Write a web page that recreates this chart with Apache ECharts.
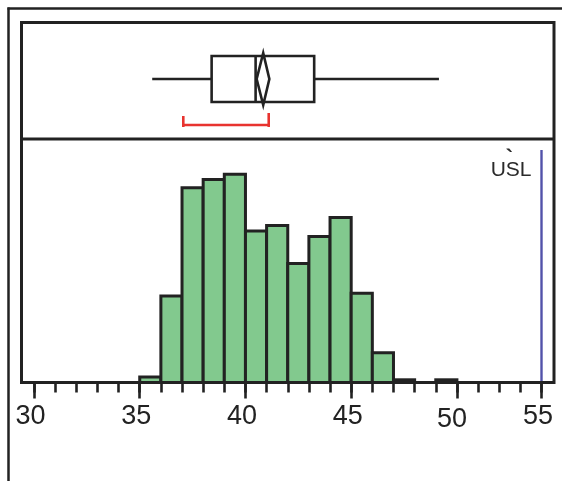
<!DOCTYPE html>
<html><head><meta charset="utf-8">
<script src="https://cdn.jsdelivr.net/npm/echarts@6/dist/echarts.min.js"></script>
<style>html,body{margin:0;padding:0;background:#fff}#c{width:562px;height:481px}</style>
</head><body><div id="c"></div>
<script>
// ---- data ----
const binStarts = [35,36,37,38,39,40,41,42,43,44,45,46,47,48,49];
const binCounts = [2,32,72,75,77,56,58,44,54,61,33,11,1,0,1];
const binWidth = 1;
// box plot: [lower whisker, Q1, median, Q3, upper whisker]
const boxStats = [35.59, 38.40, 40.48, 43.25, 49.15];
const meanValue = 40.84;
const meanCI = [40.53, 41.13];
const shortestHalf = [37.06, 41.10];
// axis: the reference's last labelled tick ("55") sits one unit step after 53
const axisMin = 30, axisMax = 54;
const majorTickValues = [30,35,40,45,50,54];
const majorTickLabels = ['30','35','40','45','50','55'];
const uslPosition = 54;
const uslLabel = 'USL';
const countMax = 90;

// ---- styles ----
const INK = '#222222';
const GREEN = '#82c98e';
const RED = '#e8332f';
const BLUE = '#5252aa';

const chart = echarts.init(document.getElementById('c'), null, {renderer:'canvas'});

const labelFor = v => {
  const i = majorTickValues.indexOf(v);
  if (i < 0) return '';
  return (v === 50 ? '{low|' : '{n|') + majorTickLabels[i] + '}';
};

const option = {
  animation: false,
  backgroundColor: '#fff',
  grid: [
    {left: 34, right: 20.5, top: 22, height: 116},
    {left: 34, right: 20.5, top: 139, bottom: 98.5}
  ],
  xAxis: [
    {gridIndex: 0, type: 'value', min: axisMin, max: axisMax, show: false},
    {gridIndex: 1, type: 'value', position: 'bottom', min: axisMin, max: axisMax, interval: 5,
      axisLine: {show: false}, splitLine: {show: false},
      axisTick: {show: true, length: 16, lineStyle: {color: INK, width: 2.6}},
      axisLabel: {show: true, margin: 21, showMaxLabel: true, showMinLabel: true,
        formatter: labelFor,
        rich: {
          n: {fontFamily: 'Liberation Sans, Arial, sans-serif', fontSize: 27, color: INK, padding: [0, 7, 0, 0]},
          low: {fontFamily: 'Liberation Sans, Arial, sans-serif', fontSize: 27, color: INK, padding: [3, 10, 0, 0]}
        }}
    },
    {gridIndex: 1, type: 'value', position: 'bottom', offset: 0, min: axisMin, max: axisMax, interval: 1,
      axisLine: {show: false}, splitLine: {show: false}, axisLabel: {show: false},
      axisTick: {show: true, length: 10, lineStyle: {color: INK, width: 2.6}}
    }
  ],
  yAxis: [
    {gridIndex: 0, type: 'value', min: 0, max: 1, show: false},
    {gridIndex: 1, type: 'value', min: 0, max: countMax, show: false}
  ],
  series: [
    {
      type: 'custom', xAxisIndex: 1, yAxisIndex: 1, clip: false, z: 2,
      data: binStarts.map((s, i) => [s, s + binWidth, binCounts[i]]),
      renderItem(params, api) {
        if (!api.value(2)) return null;
        const p0 = api.coord([api.value(0), 0]);
        const p1 = api.coord([api.value(1), api.value(2)]);
        return {type: 'rect',
          shape: {x: p0[0], y: p1[1], width: p1[0] - p0[0], height: p0[1] - p1[1]},
          style: {fill: GREEN, stroke: INK, lineWidth: 3}};
      }
    },
    {
      type: 'custom', xAxisIndex: 1, yAxisIndex: 1, clip: false, z: 3,
      data: [[uslPosition]],
      renderItem(params, api) {
        const cs = params.coordSys;
        const base = api.coord([api.value(0), 0]);
        const x = base[0];
        return {type: 'group', children: [
          {type: 'line', shape: {x1: x, y1: cs.y + 11, x2: x, y2: base[1]},
            style: {stroke: BLUE, lineWidth: 2.4}},
          {type: 'text', style: {text: uslLabel, x: x - 10, y: cs.y + 31,
            align: 'right', verticalAlign: 'middle',
            font: '21px "Liberation Sans", Arial, sans-serif', fill: '#2a2a2a'}},
          {type: 'text', style: {text: '`', x: x - 32, y: cs.y + 20,
            align: 'center', verticalAlign: 'middle',
            font: 'bold 22px "Liberation Sans", Arial, sans-serif', fill: '#2a2a2a'}}
        ]};
      }
    },
    {
      type: 'custom', xAxisIndex: 0, yAxisIndex: 0, clip: false, z: 3,
      data: [[0]],
      renderItem(params, api) {
        const cy = api.coord([axisMin, 0.5])[1] - 1;
        const X = v => api.coord([v, 0.5])[0];
        const lw = 2.6;
        const ls = {stroke: INK, lineWidth: lw, fill: null};
        const hb = 23, hd = 26;
        const [lo, q1, med, q3, hi] = boxStats;
        const rb = cy + 46;
        return {type: 'group', children: [
          {type: 'line', shape: {x1: X(lo), y1: cy, x2: X(q1), y2: cy}, style: ls},
          {type: 'line', shape: {x1: X(q3), y1: cy, x2: X(hi), y2: cy}, style: ls},
          {type: 'rect', shape: {x: X(q1), y: cy - hb, width: X(q3) - X(q1), height: 2 * hb}, style: ls},
          {type: 'line', shape: {x1: X(med), y1: cy - hb, x2: X(med), y2: cy + hb}, style: ls},
          {type: 'polygon', shape: {points: [[X(meanValue), cy - hd], [X(meanCI[1]), cy], [X(meanValue), cy + hd], [X(meanCI[0]), cy]]}, style: ls},
          {type: 'line', shape: {x1: X(shortestHalf[0]), y1: rb, x2: X(shortestHalf[1]), y2: rb}, style: {stroke: RED, lineWidth: 2.6}},
          {type: 'line', shape: {x1: X(shortestHalf[0]), y1: rb - 9, x2: X(shortestHalf[0]), y2: rb + 2}, style: {stroke: RED, lineWidth: 2.6}},
          {type: 'line', shape: {x1: X(shortestHalf[1]), y1: rb - 12, x2: X(shortestHalf[1]), y2: rb + 2}, style: {stroke: RED, lineWidth: 2.6}}
        ]};
      }
    }
  ],
  graphic: [
    // outer frame
    {type: 'line', z: 10, shape: {x1: 8.5, y1: 7.5, x2: 8.5, y2: 481}, style: {stroke: INK, lineWidth: 2.5}},
    {type: 'line', z: 10, shape: {x1: 7.5, y1: 8.5, x2: 562, y2: 8.5}, style: {stroke: INK, lineWidth: 2.5}},
    // inner frame
    {type: 'rect', z: 10, shape: {x: 21.5, y: 22.5, width: 532.5, height: 360}, style: {stroke: INK, lineWidth: 3, fill: null}},
    {type: 'line', z: 10, shape: {x1: 21.5, y1: 139, x2: 554, y2: 139}, style: {stroke: INK, lineWidth: 3}}
  ]
};
chart.setOption(option);
</script>
</body></html>
